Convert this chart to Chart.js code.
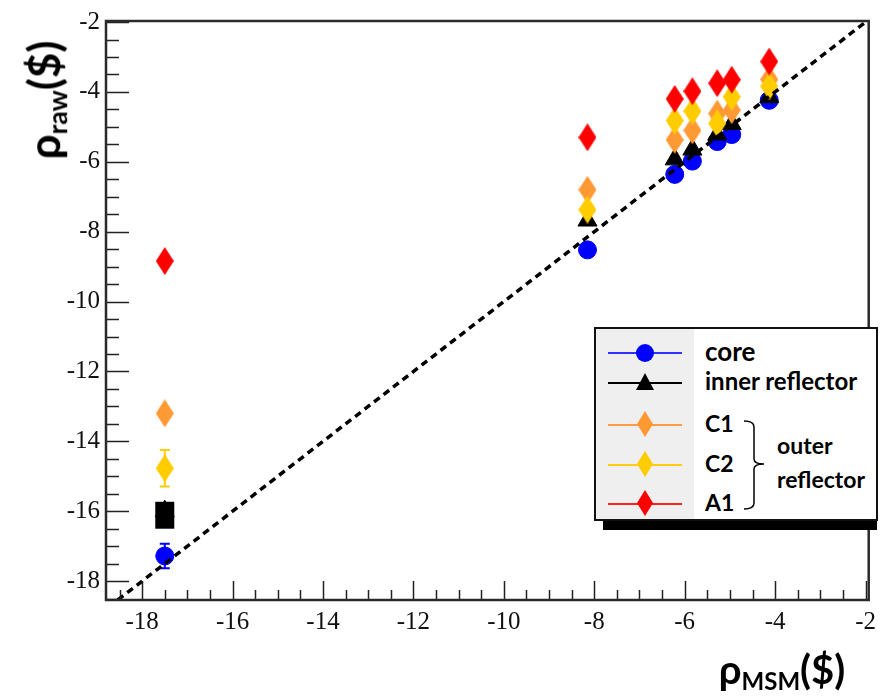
<!DOCTYPE html>
<html>
<head>
<meta charset="utf-8">
<script src="https://cdn.jsdelivr.net/npm/chart.js@4/dist/chart.umd.min.js"></script>
<style>
    body { margin: 0; background: #fff; }
    #wrap { position: relative; width: 883px; height: 696px; overflow: hidden; }
    .titre { position: absolute; font-family: Lato, "Open Sans", sans-serif; font-weight: bold; color: #000; white-space: nowrap; }
    .titre sub { font-size: 60%; vertical-align: -0.25em; }
    #legende { position: absolute; left: 594px; top: 327px; width: 280px; height: 190px; border: 2px solid #111; background: #fff; }
    #legende .gris { position: absolute; left: 0; top: 0; width: 98px; height: 100%; background: #efefef; }
    #ombre { position: absolute; left: 603px; top: 520px; width: 274px; height: 10px; background: #000; }
    .ligne { position: absolute; left: 12px; width: 74px; height: 2px; }
    .sym { position: absolute; }
    .txt { position: absolute; left: 109px; font-family: Lato, "Open Sans", sans-serif; font-weight: bold; color: #000; white-space: nowrap; }
</style>
</head>
<body>
<div id="wrap">
    <canvas id="grafico" width="883" height="696"></canvas>
    <div class="titre" style="left:45px; top:100px; font-size:44px; transform: translate(-50%,-50%) rotate(-90deg);">ρ<sub>raw</sub>($)</div>
    <div class="titre" style="left:782px; top:670px; font-size:40px; transform: translate(-50%,-50%);">ρ<sub>MSM</sub>($)</div>
    <div id="ombre"></div>
    <div id="legende">
        <div class="gris"></div>
        <div class="ligne" style="top:23px; background:#3030ff;"></div>
        <div class="sym" style="left:40px; top:15px; width:18px; height:18px; border-radius:50%; background:#0000ff;"></div>
        <div class="ligne" style="top:53px; background:#000;"></div>
        <div class="sym" style="left:40px; top:44px; width:18px; height:17px; background:#000; clip-path: polygon(50% 0, 100% 100%, 0 100%);"></div>
        <div class="ligne" style="top:95px; background:#ff9b45;"></div>
        <div class="sym" style="left:41px; top:82px; width:16px; height:26px; background:#ff9933; clip-path: polygon(50% 0, 100% 50%, 50% 100%, 0 50%);"></div>
        <div class="ligne" style="top:135px; background:#ffcc11;"></div>
        <div class="sym" style="left:41px; top:122px; width:16px; height:26px; background:#ffcc00; clip-path: polygon(50% 0, 100% 50%, 50% 100%, 0 50%);"></div>
        <div class="ligne" style="top:174px; background:#ff2020;"></div>
        <div class="sym" style="left:41px; top:161px; width:16px; height:26px; background:#ff0000; clip-path: polygon(50% 0, 100% 50%, 50% 100%, 0 50%);"></div>

        <div class="txt" style="top:6px; font-size:26px;">core</div>
        <div class="txt" style="top:37px; font-size:24px;">inner reflector</div>
        <div class="txt" style="top:80px; font-size:23px;">C1</div>
        <div class="txt" style="top:120px; font-size:23px;">C2</div>
        <div class="txt" style="top:159px; font-size:23px;">A1</div>
        <svg style="position:absolute; left:146px; top:90px;" width="34" height="92">
            <path d="M2 2 Q12 2 12 8 L12 40 Q12 45 22 45 Q12 45 12 50 L12 84 Q12 90 2 90" fill="none" stroke="#000" stroke-width="1.5"/>
        </svg>
        <div class="txt" style="left:181px; top:102px; font-size:23px;">outer</div>
        <div class="txt" style="left:181px; top:136px; font-size:23px;">reflector</div>
    </div>
</div>
<script>
// valeurs
const xMSM = [-17.5, -8.15, -6.22, -5.83, -5.28, -4.96, -4.13];
const core = [-17.28, -8.52, -6.36, -5.98, -5.42, -5.22, -4.24];
const inner = [-16.0, -7.68, -5.93, -5.65, -5.22, -4.92, -4.15];
const c1 = [-13.2, -6.8, -5.37, -5.1, -4.62, -4.52, -3.64];
const c2 = [-14.77, -7.37, -4.82, -4.55, -4.9, -4.14, -3.84];
const a1 = [-8.84, -5.3, -4.2, -3.98, -3.75, -3.65, -3.13];

const coreErr = [0.35, 0, 0, 0, 0, 0, 0];
const innerErr = [0.5, 0, 0, 0, 0, 0, 0];
const c2Err = [0.52, 0, 0, 0, 0, 0, 0];

const xTicks = [-18, -16, -14, -12, -10, -8, -6, -4, -2];
const yTicks = [-18, -16, -14, -12, -10, -8, -6, -4, -2];

const xMin = -18.8, xMax = -1.93;
const yMin = -18.54, yMax = -1.97;

function points(vals) {
    return xMSM.map(function(x, i) { return { x: x, y: vals[i] }; });
}

function losange(couleur) {
    const c = document.createElement('canvas');
    c.width = 18;
    c.height = 28;
    const g = c.getContext('2d');
    g.fillStyle = couleur;
    g.beginPath();
    g.moveTo(9, 0);
    g.lineTo(18, 14);
    g.lineTo(9, 28);
    g.lineTo(0, 14);
    g.closePath();
    g.fill();
    return c;
}

function dessineErreurs(chart, args, pleine) {
    const ds = chart.data.datasets[args.index];
    if (!ds.erreurs || !!ds.largeBarre !== pleine) return;
    const ctx = chart.ctx;
    const ys = chart.scales.y;
    const meta = args.meta;
    ctx.save();
    ctx.strokeStyle = ds.backgroundColor;
    ctx.fillStyle = ds.backgroundColor;
    ctx.lineWidth = 2;
    ds.erreurs.forEach(function(e, i) {
        if (!e) return;
        const p = meta.data[i];
        const v = ds.data[i].y;
        const y1 = ys.getPixelForValue(v + e);
        const y2 = ys.getPixelForValue(v - e);
        if (pleine) {
            ctx.fillRect(p.x - ds.largeBarre / 2, y1 + 8, ds.largeBarre, y2 - y1 - 8);
            return;
        }
        ctx.beginPath();
        ctx.moveTo(p.x, y1); ctx.lineTo(p.x, y2);
        ctx.moveTo(p.x - 5, y1); ctx.lineTo(p.x + 5, y1);
        ctx.moveTo(p.x - 5, y2); ctx.lineTo(p.x + 5, y2);
        ctx.stroke();
    });
    ctx.restore();
}

// barres d'erreur (largeBarre: barre pleine sous le marqueur)
const erreurs = {
    id: 'erreurs',
    beforeDatasetDraw: function(chart, args) { dessineErreurs(chart, args, true); },
    afterDatasetDraw: function(chart, args) { dessineErreurs(chart, args, false); }
};

// cadre et graduations vers l'interieur
const cadre = {
    id: 'cadre',
    afterDraw: function(chart) {
        const ctx = chart.ctx;
        const a = chart.chartArea;
        const xs = chart.scales.x, ys = chart.scales.y;
        ctx.save();
        ctx.strokeStyle = '#222';
        ctx.lineWidth = 1.5;
        ctx.beginPath();
        for (let v = Math.ceil(xMin * 2) / 2; v <= xMax; v += 0.5) {
            const px = Math.round(xs.getPixelForValue(v)) + 0.5;
            const len = (v % 2 === 0) ? 19 : 10;
            ctx.moveTo(px, a.bottom);
            ctx.lineTo(px, a.bottom - len);
        }
        for (let v = Math.ceil(yMin * 2) / 2; v <= yMax; v += 0.5) {
            const py = Math.round(ys.getPixelForValue(v)) + 0.5;
            const len = (v % 2 === 0) ? 23 : 13;
            ctx.moveTo(a.left, py);
            ctx.lineTo(a.left + len, py);
        }
        ctx.stroke();
        ctx.lineWidth = 2.5;
        ctx.strokeStyle = '#2a2a2a';
        ctx.strokeRect(a.left, a.top, a.right - a.left, a.bottom - a.top);
        ctx.restore();
    }
};

const ctx = document.querySelector('#grafico');
const myChart = new Chart(ctx, {
    type: 'scatter',
    data: {
        datasets: [
            {
                label: 'diagonale',
                data: [{ x: yMin, y: yMin }, { x: xMax, y: xMax }],
                showLine: true,
                borderColor: '#000',
                borderWidth: 3.5,
                borderDash: [7, 5],
                pointRadius: 0,
                order: 0
            },
            {
                label: 'A1',
                data: points(a1),
                backgroundColor: '#ff0000',
                pointStyle: losange('#ff0000'),
                order: 1
            },
            {
                label: 'C2',
                data: points(c2),
                backgroundColor: '#ffcc00',
                pointStyle: losange('#ffcc00'),
                erreurs: c2Err,
                order: 2
            },
            {
                label: 'C1',
                data: points(c1),
                backgroundColor: '#ff9933',
                pointStyle: losange('#ff9933'),
                order: 3
            },
            {
                label: 'inner reflector',
                data: points(inner),
                backgroundColor: '#000',
                borderColor: '#000',
                pointStyle: 'triangle',
                pointRadius: 11,
                erreurs: innerErr,
                largeBarre: 19,
                order: 4
            },
            {
                label: 'core',
                data: points(core),
                backgroundColor: '#0000ff',
                borderColor: '#0000ff',
                pointStyle: 'circle',
                pointRadius: 9,
                erreurs: coreErr,
                order: 5
            }
        ]
    },
    options: {
        responsive: false,
        animation: false,
        layout: { padding: { top: 15, right: 7, left: 0, bottom: 0 } },
        plugins: {
            legend: { display: false },
            tooltip: { enabled: false }
        },
        scales: {
            x: {
                type: 'linear',
                min: xMin,
                max: xMax,
                afterBuildTicks: function(s) { s.ticks = xTicks.map(function(v) { return { value: v }; }); },
                afterFit: function(s) { s.height = 96; },
                grid: { display: false, drawTicks: false },
                border: { display: false },
                ticks: {
                    padding: 7,
                    color: '#111',
                    font: { family: '"Liberation Serif", "DejaVu Serif", serif', size: 25 },
                    maxRotation: 0
                }
            },
            y: {
                type: 'linear',
                min: yMin,
                max: yMax,
                afterBuildTicks: function(s) { s.ticks = yTicks.map(function(v) { return { value: v }; }); },
                afterFit: function(s) { s.width = 106; },
                grid: { display: false, drawTicks: false },
                border: { display: false },
                ticks: {
                    padding: 6,
                    color: '#111',
                    font: { family: '"Liberation Serif", "DejaVu Serif", serif', size: 25 }
                }
            }
        }
    },
    plugins: [erreurs, cadre]
});
</script>
</body>
</html>
